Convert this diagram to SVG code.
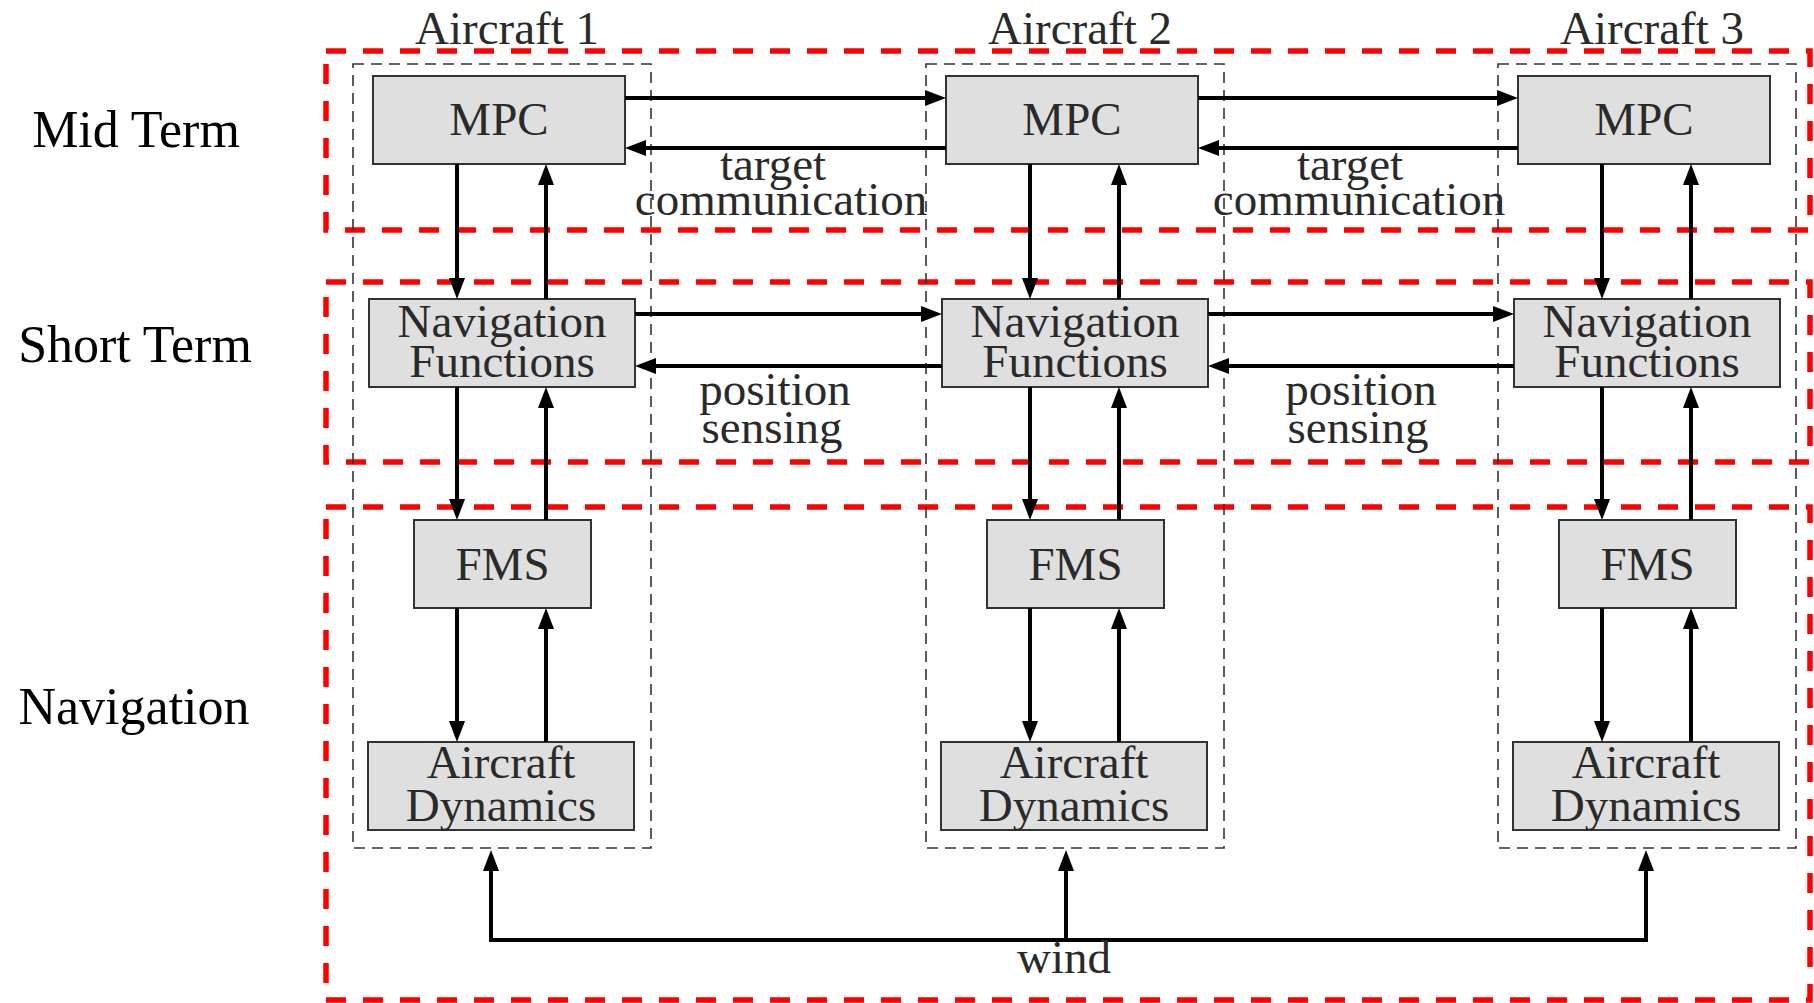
<svg xmlns="http://www.w3.org/2000/svg" width="1814" height="1003" viewBox="0 0 1814 1003">
<style>
  .lvl { fill: none; stroke: #ff0000; stroke-width: 5.5; stroke-dasharray: 20 17; }
  .ac { fill: none; stroke: #333; stroke-width: 1.6; stroke-dasharray: 11 7; }
  .box { fill: #dfdfdf; stroke: #333; stroke-width: 2; }
  .t { font-family: "Liberation Serif", "Times New Roman", serif; font-size: 47px; fill: #2a2a2a; text-anchor: middle; }
  .side { font-family: "Liberation Serif", "Times New Roman", serif; font-size: 52px; fill: #000; text-anchor: middle; }
  .arr { fill: none; stroke: #000; stroke-width: 4; marker-end: url(#ah); }
  .wind { fill: none; stroke: #000; stroke-width: 4; stroke-linejoin: miter; }
</style>
<defs>
  <marker id="ah" markerWidth="22" markerHeight="18" viewBox="0 -9 22 18" refX="2" refY="0" orient="auto-start-reverse" markerUnits="userSpaceOnUse">
    <path d="M0,-8 L21,0 L0,8 z" fill="#000"/>
  </marker>
</defs>
<rect width="1814" height="1003" fill="#fff"/>

<g id="levels">
  <rect class="lvl" x="326" y="51" width="1484" height="179"/>
  <rect class="lvl" x="326" y="282" width="1484" height="180"/>
  <rect class="lvl" x="326" y="507" width="1484" height="493"/>
  <text class="side" x="136" y="147">Mid Term</text>
  <text class="side" x="135" y="362">Short Term</text>
  <text class="side" x="134" y="724">Navigation</text>
</g>

<g id="aircraft1">
  <rect class="ac" x="353" y="64" width="298" height="784"/>
  <text class="t" x="507" y="44">Aircraft 1</text>
</g>
<g id="aircraft2">
  <rect class="ac" x="926" y="64" width="298" height="784"/>
  <text class="t" x="1080" y="44">Aircraft 2</text>
</g>
<g id="aircraft3">
  <rect class="ac" x="1498" y="64" width="298" height="784"/>
  <text class="t" x="1652" y="44">Aircraft 3</text>
</g>

<g id="mpc1"><rect class="box" x="373" y="76" width="252" height="88"/><text class="t" x="499" y="135">MPC</text></g>
<g id="nav1"><rect class="box" x="369" y="299" width="266" height="88"/><text class="t"><tspan x="502" y="337">Navigation</tspan><tspan x="502" y="377">Functions</tspan></text></g>
<g id="fms1"><rect class="box" x="414" y="520" width="177" height="88"/><text class="t" x="502.5" y="580">FMS</text></g>
<g id="ad1"><rect class="box" x="368" y="742" width="266" height="88"/><text class="t"><tspan x="501" y="778">Aircraft</tspan><tspan x="501" y="821">Dynamics</tspan></text></g>

<g id="mpc2"><rect class="box" x="946" y="76" width="252" height="88"/><text class="t" x="1072" y="135">MPC</text></g>
<g id="nav2"><rect class="box" x="942" y="299" width="266" height="88"/><text class="t"><tspan x="1075" y="337">Navigation</tspan><tspan x="1075" y="377">Functions</tspan></text></g>
<g id="fms2"><rect class="box" x="987" y="520" width="177" height="88"/><text class="t" x="1075.5" y="580">FMS</text></g>
<g id="ad2"><rect class="box" x="941" y="742" width="266" height="88"/><text class="t"><tspan x="1074" y="778">Aircraft</tspan><tspan x="1074" y="821">Dynamics</tspan></text></g>

<g id="mpc3"><rect class="box" x="1518" y="76" width="252" height="88"/><text class="t" x="1644" y="135">MPC</text></g>
<g id="nav3"><rect class="box" x="1514" y="299" width="266" height="88"/><text class="t"><tspan x="1647" y="337">Navigation</tspan><tspan x="1647" y="377">Functions</tspan></text></g>
<g id="fms3"><rect class="box" x="1559" y="520" width="177" height="88"/><text class="t" x="1647.5" y="580">FMS</text></g>
<g id="ad3"><rect class="box" x="1513" y="742" width="266" height="88"/><text class="t"><tspan x="1646" y="778">Aircraft</tspan><tspan x="1646" y="821">Dynamics</tspan></text></g>

<g id="connectors">
  <path class="arr" d="M457,164 L457,280"/>
  <path class="arr" d="M546,299 L546,183"/>
  <path class="arr" d="M457,387 L457,501"/>
  <path class="arr" d="M546,520 L546,406"/>
  <path class="arr" d="M457,608 L457,723"/>
  <path class="arr" d="M546,742 L546,627"/>
  <path class="arr" d="M1030,164 L1030,280"/>
  <path class="arr" d="M1119,299 L1119,183"/>
  <path class="arr" d="M1030,387 L1030,501"/>
  <path class="arr" d="M1119,520 L1119,406"/>
  <path class="arr" d="M1030,608 L1030,723"/>
  <path class="arr" d="M1119,742 L1119,627"/>
  <path class="arr" d="M1602,164 L1602,280"/>
  <path class="arr" d="M1691,299 L1691,183"/>
  <path class="arr" d="M1602,387 L1602,501"/>
  <path class="arr" d="M1691,520 L1691,406"/>
  <path class="arr" d="M1602,608 L1602,723"/>
  <path class="arr" d="M1691,742 L1691,627"/>
  <path class="arr" d="M625,98 L927,98"/>
  <path class="arr" d="M946,148 L644,148"/>
  <path class="arr" d="M1198,98 L1499,98"/>
  <path class="arr" d="M1518,148 L1217,148"/>
  <path class="arr" d="M635,314 L923,314"/>
  <path class="arr" d="M942,366 L654,366"/>
  <path class="arr" d="M1208,314 L1495,314"/>
  <path class="arr" d="M1514,366 L1227,366"/>
  <path class="wind" d="M491,869 L491,940 L1646,940 L1646,869" marker-start="url(#ah)" marker-end="url(#ah)"/>
  <path class="arr" d="M1066,940 L1066,869"/>
  <text class="t"><tspan x="773" y="180">target</tspan><tspan x="781" y="215">communication</tspan></text>
  <text class="t"><tspan x="1350" y="180">target</tspan><tspan x="1359" y="215">communication</tspan></text>
  <text class="t"><tspan x="775" y="405">position</tspan><tspan x="772" y="443">sensing</tspan></text>
  <text class="t"><tspan x="1361" y="405">position</tspan><tspan x="1358" y="443">sensing</tspan></text>
  <text class="t" x="1064" y="973">wind</text>
</g>
</svg>
